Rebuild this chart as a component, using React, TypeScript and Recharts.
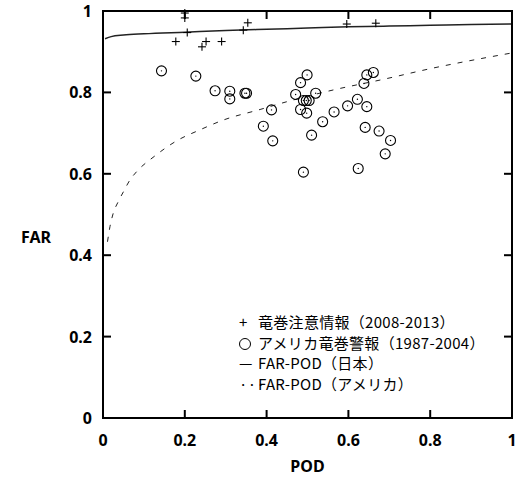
import * as React from "react";
import { ComposedChart, XAxis, YAxis, Scatter, Line } from "recharts";

const axisTicks = [0, 0.2, 0.4, 0.6, 0.8, 1];

// 竜巻注意情報 (2008-2013)
const japanPod = [0.2, 0.2, 0.206, 0.178, 0.252, 0.242, 0.29, 0.343, 0.354, 0.596, 0.667];
const japanFar = [0.995, 0.983, 0.947, 0.925, 0.925, 0.912, 0.925, 0.953, 0.971, 0.968, 0.97];

// アメリカ竜巻警報 (1987-2004)
const usaPod = [
  0.143, 0.227, 0.274, 0.31, 0.31, 0.347, 0.351, 0.392, 0.412, 0.415, 0.471, 0.483,
  0.499, 0.52, 0.49, 0.497, 0.504, 0.483, 0.498, 0.49, 0.51, 0.537, 0.565, 0.598,
  0.622, 0.645, 0.638, 0.645, 0.661, 0.641, 0.675, 0.703, 0.69, 0.624,
];
const usaFar = [
  0.853, 0.84, 0.804, 0.803, 0.784, 0.798, 0.798, 0.717, 0.757, 0.681, 0.795, 0.824,
  0.843, 0.798, 0.78, 0.78, 0.78, 0.758, 0.749, 0.604, 0.695, 0.728, 0.752, 0.767,
  0.783, 0.765, 0.822, 0.843, 0.849, 0.714, 0.705, 0.682, 0.649, 0.613,
];

// FAR-POD curves
const jpCurvePod = [0.005, 0.02, 0.05, 0.1, 0.2, 0.3, 0.4, 0.5, 0.6, 0.7, 0.8, 0.9, 1];
const jpCurveFar = [0.932, 0.937, 0.941, 0.944, 0.948, 0.952, 0.955, 0.958, 0.961, 0.963, 0.965, 0.967, 0.968];

const usCurvePod = [
  0.011, 0.017, 0.025, 0.037, 0.05, 0.066, 0.082, 0.127, 0.18, 0.237, 0.294, 0.384,
  0.449, 0.563, 0.685, 0.808, 1,
];
const usCurveFar = [
  0.433, 0.47, 0.503, 0.531, 0.556, 0.585, 0.605, 0.644, 0.681, 0.708, 0.732, 0.758,
  0.777, 0.806, 0.832, 0.86, 0.897,
];

const legendRows = [
  { sym: "+", text: "竜巻注意情報（2008-2013）" },
  { sym: "ring", text: "アメリカ竜巻警報（1987-2004）" },
  { sym: "—", text: "FAR-POD（日本）" },
  { sym: "···", text: "FAR-POD（アメリカ）" },
];

const W = 519;
const H = 482;
const X_AXIS_H = 64;
const Y_AXIS_W = 103;
const PLOT_TOP = 11;
const PLOT_BOTTOM = H - X_AXIS_H;
const PLOT_LEFT = Y_AXIS_W;
const PLOT_RIGHT = W - 7;
const TICK = 8;

const toPoints = (xs: number[], ys: number[]) => xs.map((x, i) => ({ x, y: ys[i] }));

const PlusMark = (props: any) => {
  const { cx, cy } = props;
  return (
    <g>
      <line x1={cx - 4} x2={cx + 4} y1={cy} y2={cy} stroke="#000" strokeWidth={1.1} />
      <line x1={cx} x2={cx} y1={cy - 4} y2={cy + 4} stroke="#000" strokeWidth={1.1} />
    </g>
  );
};

const RingMark = (props: any) => {
  const { cx, cy } = props;
  return (
    <g>
      <circle cx={cx} cy={cy} r={5} fill="none" stroke="#000" strokeWidth={1.1} />
      <circle cx={cx} cy={cy} r={0.7} fill="#000" />
    </g>
  );
};

// box frame with inward ticks on all four sides, drawn as an overlay
const Frame = () => {
  const w = PLOT_RIGHT - PLOT_LEFT;
  const h = PLOT_BOTTOM - PLOT_TOP;
  const inner = axisTicks.filter((t) => t > 0 && t < 1);
  return (
    <svg
      width={W}
      height={H}
      style={{ position: "absolute", left: 0, top: 0, pointerEvents: "none" }}
    >
      <rect x={PLOT_LEFT} y={PLOT_TOP} width={w} height={h} fill="none" stroke="#000" strokeWidth={2} />
      {inner.map((t) => {
        const x = PLOT_LEFT + t * w;
        const y = PLOT_BOTTOM - t * h;
        return (
          <g key={t} stroke="#000" strokeWidth={2}>
            <line x1={x} x2={x} y1={PLOT_BOTTOM} y2={PLOT_BOTTOM - TICK} />
            <line x1={x} x2={x} y1={PLOT_TOP} y2={PLOT_TOP + TICK} />
            <line x1={PLOT_LEFT} x2={PLOT_LEFT + TICK} y1={y} y2={y} />
            <line x1={PLOT_RIGHT} x2={PLOT_RIGHT - TICK} y1={y} y2={y} />
          </g>
        );
      })}
    </svg>
  );
};

const renderXTick = (p: any) => (
  <text x={p.x} y={PLOT_BOTTOM + 28} textAnchor="middle" fontSize={16} fontWeight={700} fill="#000" fontFamily="Noto Sans">
    {String(p.payload.value)}
  </text>
);

const renderYTick = (p: any) => (
  <text x={PLOT_LEFT - 11} y={p.y + 6} textAnchor="end" fontSize={16} fontWeight={700} fill="#000" fontFamily="Noto Sans">
    {String(p.payload.value)}
  </text>
);

export default function App() {
  const japan = toPoints(japanPod, japanFar);
  const usa = toPoints(usaPod, usaFar);
  const jpCurve = toPoints(jpCurvePod, jpCurveFar);
  const usCurve = toPoints(usCurvePod, usCurveFar);

  return (
    <div style={{ position: "absolute", left: 0, top: 0 }}>
      <ComposedChart width={W} height={H} margin={{ top: PLOT_TOP, right: 7, bottom: 0, left: 0 }}>
        <XAxis
          dataKey="x"
          type="number"
          domain={[0, 1]}
          ticks={axisTicks}
          height={X_AXIS_H}
          tickLine={false}
          tick={renderXTick}
          axisLine={false}
        />
        <YAxis
          dataKey="y"
          type="number"
          domain={[0, 1]}
          ticks={axisTicks}
          width={Y_AXIS_W}
          tickLine={false}
          tick={renderYTick}
          axisLine={false}
        />
        <Line
          data={jpCurve}
          dataKey="y"
          type="monotone"
          stroke="#222"
          strokeWidth={1.5}
          dot={false}
          activeDot={false}
          isAnimationActive={false}
        />
        <Line
          data={usCurve}
          dataKey="y"
          type="monotone"
          stroke="#222"
          strokeWidth={1}
          strokeDasharray="5 7"
          dot={false}
          activeDot={false}
          isAnimationActive={false}
        />
        <Scatter data={usa} shape={RingMark} isAnimationActive={false} />
        <Scatter data={japan} shape={PlusMark} isAnimationActive={false} />
      </ComposedChart>

      <Frame />

      {/* axis titles */}
      <div style={{ position: "absolute", left: 21, top: 226, font: "700 16px 'Noto Sans'", color: "#000" }}>FAR</div>
      <div style={{ position: "absolute", left: 0, width: 615, textAlign: "center", top: 455, font: "700 16px 'Noto Sans'", color: "#000" }}>POD</div>

      {/* legend */}
      <div
        style={{
          position: "absolute",
          left: 239,
          top: 312,
          fontFamily: "'Noto Sans CJK JP'",
          fontSize: 15,
          letterSpacing: 0.3,
          lineHeight: "20.5px",
          color: "#000",
          whiteSpace: "nowrap",
        }}
      >
        {legendRows.map((r) => (
          <div key={r.text} style={{ display: "flex", alignItems: "center", height: 20.5 }}>
            <span style={{ width: 19, display: "inline-block" }}>
              {r.sym === "ring" ? (
                <span
                  style={{
                    display: "inline-block",
                    width: 10,
                    height: 10,
                    border: "1.5px solid #000",
                    borderRadius: "50%",
                    verticalAlign: "middle",
                  }}
                />
              ) : (
                r.sym
              )}
            </span>
            <span>{r.text}</span>
          </div>
        ))}
      </div>
    </div>
  );
}
